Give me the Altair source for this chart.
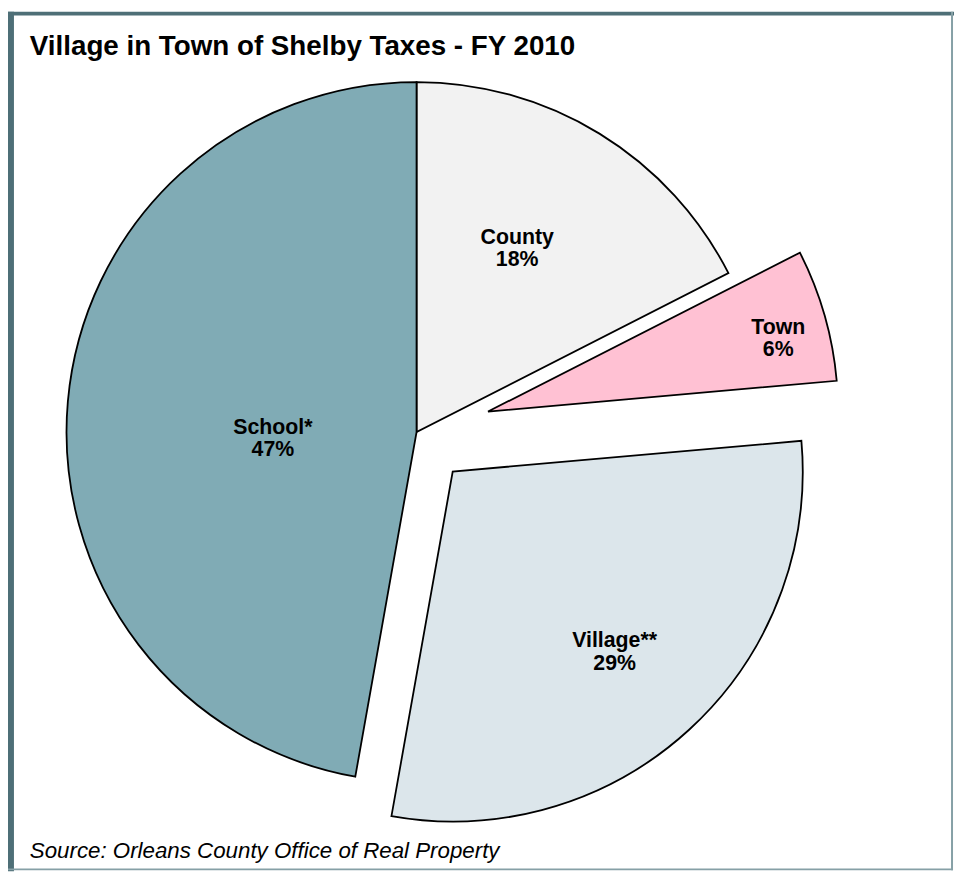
import altair as alt
import pandas as pd

# ---- data ----
categories = ["County", "Town", "Village**", "School*"]
values = [17.5, 6.1, 29.2, 47.2]
pct_labels = ["18%", "6%", "29%", "47%"]

# ---- styles / layout ----
colors = ["#f2f2f2", "#ffc1d3", "#dce6eb", "#80abb5"]
explode = [0, 75, 54, 0]
label_dist = [212, 302, 244, 145]
label_angle_deg = [28.6, 75.7, 138, 267.8]

W, H = 954, 867
CX, CY = 412, 424
R = 353
FONT = "Liberation Sans"

df = pd.DataFrame({
    "category": categories,
    "value": values,
    "label": [c + "\n" + p for c, p in zip(categories, pct_labels)],
    "color": colors,
    "explode": explode,
    "ldist": label_dist,
    "langle": label_angle_deg,
    "order": list(range(len(categories))),
})

base = (
    alt.Chart(df)
    .transform_joinaggregate(total="sum(value)")
    .transform_window(cum="sum(value)", sort=[alt.SortField("order")])
    .transform_calculate(
        t0="(datum.cum - datum.value) / datum.total * 2 * PI",
        t1="datum.cum / datum.total * 2 * PI",
    )
    .transform_calculate(tm="(datum.t0 + datum.t1) / 2")
    .transform_calculate(
        cx=f"{CX} + datum.explode * sin(datum.tm)",
        cy=f"{CY} - datum.explode * cos(datum.tm)",
    )
    .transform_calculate(
        lx="datum.cx + datum.ldist * sin(datum.langle * PI / 180)",
        ly="datum.cy - datum.ldist * cos(datum.langle * PI / 180)",
    )
)

arcs = base.mark_arc(radius=R, stroke="black", strokeWidth=1.8, strokeJoin="miter").encode(
    x=alt.X("cx:Q", scale=None, axis=None),
    y=alt.Y("cy:Q", scale=None, axis=None),
    theta=alt.Theta("t0:Q", scale=None, stack=None),
    theta2="t1:Q",
    fill=alt.Fill("color:N", scale=None),
)

labels = base.mark_text(
    font=FONT, fontSize=21.5, fontWeight="bold", lineBreak="\n", lineHeight=23,
    align="center", baseline="middle", color="black", dy=-10,
).encode(
    x=alt.X("lx:Q", scale=None, axis=None),
    y=alt.Y("ly:Q", scale=None, axis=None),
    text="label:N",
)

dummy = pd.DataFrame({"a": [0]})
frame_dark = "#4e6f77"
frame_light = "#86a0a6"
top = alt.Chart(dummy).mark_rect(color=frame_dark).encode(
    x=alt.value(0), x2=alt.value(W), y=alt.value(0), y2=alt.value(4))
left = alt.Chart(dummy).mark_rect(color=frame_dark).encode(
    x=alt.value(0), x2=alt.value(6), y=alt.value(0), y2=alt.value(H))
right = alt.Chart(dummy).mark_rect(color=frame_light).encode(
    x=alt.value(951), x2=alt.value(953), y=alt.value(0), y2=alt.value(866))
bottom = alt.Chart(dummy).mark_rect(color=frame_light).encode(
    x=alt.value(0), x2=alt.value(953), y=alt.value(864), y2=alt.value(866))

title = alt.Chart(dummy).mark_text(
    text="Village in Town of Shelby Taxes - FY 2010", font=FONT, fontSize=28,
    fontWeight="bold", align="left", baseline="alphabetic", color="black",
).encode(x=alt.value(22), y=alt.value(44))

source = alt.Chart(dummy).mark_text(
    text="Source: Orleans County Office of Real Property", font=FONT, fontSize=22.5,
    fontStyle="italic", align="left", baseline="alphabetic", color="black",
).encode(x=alt.value(22), y=alt.value(854))

chart = alt.layer(arcs, labels, title, source, top, left, right, bottom).properties(
    width=W, height=H, padding=0, autosize="none",
).configure_view(stroke=None)

chart.save("out.html", embed_options={"renderer": "svg", "actions": False})
